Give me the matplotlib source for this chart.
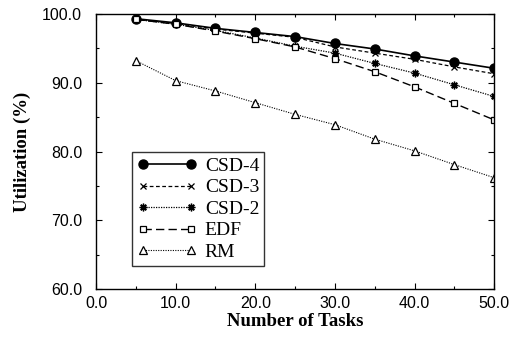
import matplotlib
matplotlib.use("Agg")
import matplotlib.pyplot as plt
from matplotlib.ticker import MultipleLocator, FormatStrFormatter

tasks = [5, 10, 15, 20, 25, 30, 35, 40, 45, 50]
csd4 = [99.3, 98.7, 97.9, 97.3, 96.7, 95.7, 94.9, 93.9, 93.0, 92.1]
csd3 = [99.2, 98.6, 97.8, 97.2, 96.6, 95.2, 94.3, 93.4, 92.3, 91.3]
csd2 = [99.2, 98.5, 97.6, 96.5, 95.3, 94.3, 92.8, 91.4, 89.7, 88.0]
edf = [99.2, 98.5, 97.5, 96.4, 95.2, 93.5, 91.6, 89.4, 87.0, 84.6]
rm = [93.2, 90.3, 88.8, 87.1, 85.4, 83.9, 81.8, 80.1, 78.1, 76.2]

fig = plt.figure(figsize=(5.11, 3.39), dpi=100)
ax = fig.add_axes([0.188, 0.147, 0.779, 0.812])

ax.plot(tasks, csd4, color="black", lw=1.2, ls="-", marker="o", ms=6.5, label="CSD-4")
ax.plot(tasks, csd3, color="black", lw=0.9, ls=(0, (3, 2)), marker="x", ms=4, mew=0.9, label="CSD-3")
ax.plot(tasks, csd2, color="black", lw=0.9, ls=(0, (1, 1)), marker=(8, 2, 0), ms=5.5, mew=1.0, label="CSD-2")
ax.plot(tasks, edf, color="black", lw=1.0, ls=(0, (6, 3)), marker="s", ms=5, mfc="white", mew=0.9, label="EDF")
ax.plot(tasks, rm, color="black", lw=0.8, ls=(0, (1, 1.2)), marker="^", ms=6, mfc="white", mew=0.9, label="RM")

ax.set_xlim(0, 50)
ax.set_ylim(60, 100)
ax.xaxis.set_major_locator(MultipleLocator(10))
ax.xaxis.set_minor_locator(MultipleLocator(5))
ax.yaxis.set_major_locator(MultipleLocator(10))
ax.yaxis.set_minor_locator(MultipleLocator(5))
ax.xaxis.set_major_formatter(FormatStrFormatter("%.1f"))
ax.yaxis.set_major_formatter(FormatStrFormatter("%.1f"))
ax.tick_params(which="both", direction="in", top=True, right=True, width=0.8)
ax.tick_params(which="major", length=4, labelsize=11.5)
ax.tick_params(which="minor", length=2.5)
ax.tick_params(axis="y", pad=10)
ax.tick_params(axis="x", pad=5)
for lab in ax.get_xticklabels() + ax.get_yticklabels():
    lab.set_family("Liberation Sans")
for s in ax.spines.values():
    s.set_linewidth(1.0)

ax.set_xlabel("Number of Tasks", family="Liberation Serif", fontweight="bold", fontsize=13.5, labelpad=1)
ax.set_ylabel("Utilization (%)", family="Liberation Serif", fontweight="bold", fontsize=13.5, labelpad=8)

leg = ax.legend(loc="lower left", bbox_to_anchor=(0.09, 0.085), prop={"family": "Liberation Serif", "size": 14},
                frameon=True, fancybox=False, edgecolor="black", numpoints=2, handlelength=3.1,
                handletextpad=0.4, borderpad=0.25, labelspacing=0.2, borderaxespad=0)
leg.get_frame().set_linewidth(1.0)

fig.savefig("out.png", dpi=100)
